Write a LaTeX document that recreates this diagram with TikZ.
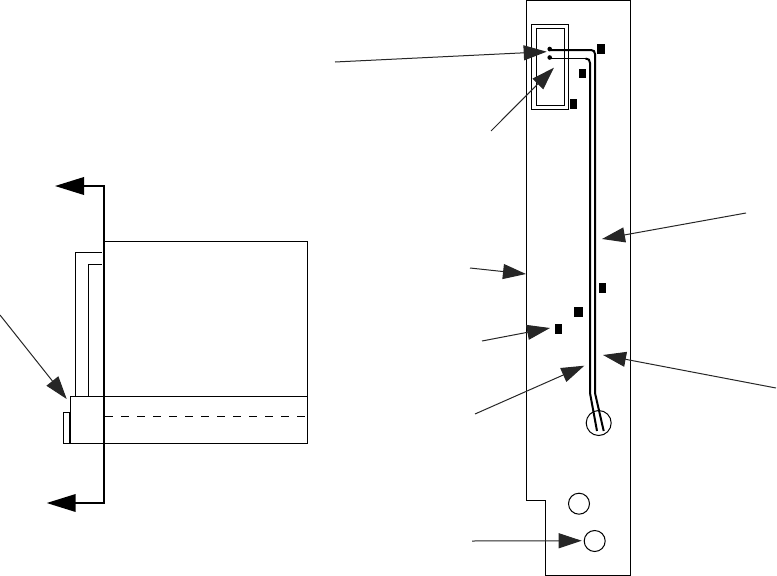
\documentclass[tikz,border=0pt]{standalone}
\usetikzlibrary{arrows.meta}
\tikzset{
  thinline/.style={line width=1pt,black,line join=miter},
  tracea/.style={line width=2pt,black},
  leader/.style={line width=1pt,black!85,-{Triangle[length=23pt,width=15pt]},shorten >=0pt},
  secarrow/.style={line width=2pt,black,-{Triangle[length=29pt,width=17.5pt]}},
  pad/.style={fill=black,draw=none},
  dot/.style={circle,fill=black,inner sep=0pt,minimum size=4.6pt}
}
\begin{document}
\begin{tikzpicture}[x=1pt,y=-1pt]
\useasboundingbox (0,0) rectangle (777,576);
% Right view: plate
\draw[thinline] (526.5,0.5) -- (630.5,0.5) -- (630.5,575.5) -- (545.5,575.5) -- (545.5,500.5) -- (526.5,500.5) -- cycle;
% connector
\draw[thinline] (531.5,24.5) rectangle (568.5,109.5);
\draw[thinline] (536.5,28.5) rectangle (564.5,105.5);
\node[dot] (d1) at (549.7,49) {};
\node[dot] (d2) at (549.7,57.5) {};
% traces
\draw[tracea] (d1.center) -- (549.7,50) -- (591,50) .. controls (593.5,50) and (595,51.5) .. (595,54) -- (595,393) -- (603.7,431);
\draw[thinline] (d2.center) -- (549.7,58.5) -- (585.5,58.5);
\draw[tracea] (585.5,58.5) .. controls (588.5,58.5) and (590,60) .. (590,63) -- (590,393) -- (597,431);
% pads
\fill[pad] (597,44) rectangle (605,54);
\fill[pad] (579,69) rectangle (586,78);
\fill[pad] (570,99) rectangle (577,109);
\fill[pad] (599,283) rectangle (606,293);
\fill[pad] (574,307) rectangle (583,317);
\fill[pad] (555,324) rectangle (562,334);
% holes
\node[draw,thinline,circle,inner sep=0pt,minimum size=25pt] (h1) at (598.7,423) {};
\node[draw,thinline,circle,inner sep=0pt,minimum size=21pt] (h2) at (579,503.7) {};
\node[draw,thinline,circle,inner sep=0pt,minimum size=21pt] (h3) at (594.7,541) {};
% leaders
\coordinate (a1s) at (335,62); \coordinate (a1e) at (546.7,51.7);
\coordinate (a2s) at (491,131); \coordinate (a2e) at (554,67.7);
\coordinate (a3s) at (746,213); \coordinate (a3e) at (602,239);
\coordinate (a4s) at (470,268); \coordinate (a4e) at (526,274);
\coordinate (a5s) at (482,341); \coordinate (a5e) at (550,328);
\coordinate (a6s) at (475,414); \coordinate (a6e) at (584.3,365.7);
\coordinate (a7s) at (776,388); \coordinate (a7e) at (603,355);
\coordinate (a8s) at (472,541); \coordinate (a8e) at (581.7,540.7);
\coordinate (a9s) at (0,315); \coordinate (a9e) at (66.7,399);
\foreach \n in {1,...,9} \draw[leader] (a\n s) -- (a\n e);
% Left view
\draw[thinline] (104,241.5) -- (307.5,241.5) -- (307.5,443.5);
\draw[thinline] (75.5,396) -- (75.5,252.5) -- (102,252.5);
\draw[thinline] (88.5,396) -- (88.5,264.5) -- (102,264.5);
\draw[thinline] (70.5,396.5) rectangle (307.5,443.5);
\draw[thinline] (63.5,412.5) rectangle (69.5,443.5);
\draw[line width=2pt] (70,412) -- (70,444);
\draw[thinline,dash pattern=on 8pt off 8pt] (105,416.5) -- (307,416.5);
% section line
\coordinate (s1) at (55,186); \coordinate (s2) at (104,186);
\coordinate (s3) at (104,503); \coordinate (s4) at (46.7,503);
\draw[secarrow] (s2) -- (s1);
\draw[secarrow] (s3) -- (s4);
\draw[line width=2pt,line cap=rect] (s2) -- (s3);
\end{tikzpicture}
\end{document}
